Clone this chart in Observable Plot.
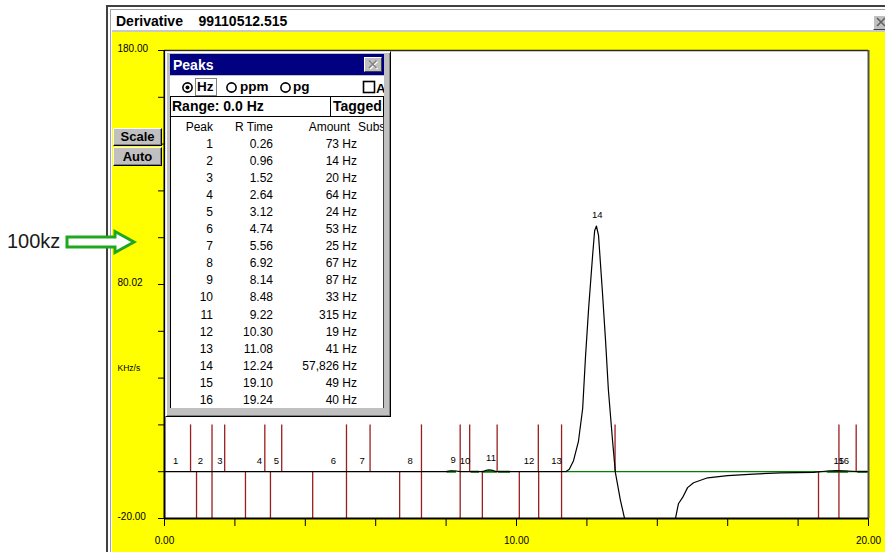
<!DOCTYPE html>
<html><head><meta charset="utf-8">
<script src="https://cdn.jsdelivr.net/npm/d3@7"></script>
<script src="https://cdn.jsdelivr.net/npm/@observablehq/plot@0.6"></script>
<style>
html,body{margin:0;padding:0;width:885px;height:552px;overflow:hidden;background:#fff;font-family:"Liberation Sans",Arial,sans-serif;color:#000;}
.a{position:absolute;box-sizing:border-box;}
.b{font-weight:bold;}
.btn{background:#c0c0c0;border:1px solid;border-color:#fff #000 #000 #fff;box-shadow:inset -1px -1px #808080;font-weight:bold;font-size:13px;text-align:center;}
.t{position:absolute;font-size:12px;white-space:pre;line-height:14px;}
</style></head><body>

<!-- main window frame -->
<div class="a" style="left:106px;top:5px;width:800px;height:560px;border-left:2px solid #404040;border-top:2px solid #404040;background:#fff;"></div>
<div class="a" style="left:110px;top:9px;width:790px;height:560px;border-left:1px solid #a0a0a0;border-top:1px solid #a0a0a0;background:#fff;"></div>
<div class="a b" style="left:116px;top:12px;font-size:14px;line-height:18px;white-space:pre;">Derivative    99110512.515</div>
<div class="a" style="left:112px;top:30px;width:790px;height:2px;background:#c8c8c8;"></div>
<div class="a" style="left:873px;top:15px;width:20px;height:15px;background:#c0c0c0;border:1px solid;border-color:#fff #404040 #404040 #fff;"></div>
<svg class="a" style="left:873px;top:15px;" width="14" height="15"><path d="M4 3 L12 11 M12 3 L4 11" stroke="#606060" stroke-width="1.6"/></svg>

<div id="chart" class="a" style="left:112px;top:32px;"></div>

<!-- buttons -->
<div class="a btn" style="left:113px;top:128px;width:49px;height:18px;line-height:16px;">Scale</div>
<div class="a btn" style="left:113px;top:147px;width:49px;height:19px;line-height:17px;">Auto</div>

<!-- Peaks dialog -->
<div class="a" style="left:165px;top:51px;width:226px;height:366px;background:#c0c0c0;border:1px solid;border-color:#dfdfdf #000 #000 #dfdfdf;box-shadow:inset 1px 1px #fff,inset -1px -1px #808080;"></div>
<div class="a" style="left:170px;top:54px;width:214px;height:21px;background:#000080;"></div>
<div class="a b" style="left:173px;top:56px;font-size:14px;line-height:18px;color:#fff;">Peaks</div>
<div class="a" style="left:364px;top:57px;width:18px;height:15px;background:#c0c0c0;border:1px solid;border-color:#fff #404040 #404040 #fff;"></div>
<svg class="a" style="left:364px;top:57px;" width="18" height="15"><path d="M5 3.5 L12.5 11 M12.5 3.5 L5 11" stroke="#fff" stroke-width="1.5" transform="translate(1,1)"/><path d="M5 3.5 L12.5 11 M12.5 3.5 L5 11" stroke="#808080" stroke-width="1.5"/></svg>
<div class="a" style="left:170px;top:76px;width:214px;height:332px;background:#fff;"></div>
<svg class="a" style="left:170px;top:76px;" width="214" height="20">
  <circle cx="17.5" cy="11.5" r="4.6" fill="#fff" stroke="#000" stroke-width="1.6"/>
  <circle cx="17.5" cy="11.5" r="2" fill="#000"/>
  <circle cx="61.5" cy="11.5" r="4.6" fill="#fff" stroke="#000" stroke-width="1.6"/>
  <circle cx="115.5" cy="11.5" r="4.6" fill="#fff" stroke="#000" stroke-width="1.6"/>
  <rect x="193.5" y="5.5" width="11" height="11" fill="#fff" stroke="#000" stroke-width="1.6"/>
  <rect x="25.5" y="2.5" width="21" height="17" fill="none" stroke="#000" stroke-width="1" stroke-dasharray="1,1"/>
</svg>
<div class="a b" style="left:197px;top:79px;font-size:13.5px;line-height:16px;">Hz</div>
<div class="a b" style="left:240px;top:79px;font-size:13.5px;line-height:16px;">ppm</div>
<div class="a b" style="left:293px;top:79px;font-size:13.5px;line-height:16px;">pg</div>
<div class="a" style="left:376px;top:79px;width:8px;height:16px;overflow:hidden;"><span class="b" style="font-size:13.5px;line-height:16px;">A</span></div>
<div class="a" style="left:170px;top:96px;width:161px;height:21px;border:1px solid #000;border-right:none;background:#fff;"></div>
<div class="a" style="left:330px;top:96px;width:54px;height:21px;border:1px solid #000;background:#fff;overflow:hidden;"><span class="b" style="position:absolute;left:2px;top:1px;font-size:14px;line-height:17px;white-space:pre;">Tagged:</span></div>
<div class="a b" style="left:172px;top:98px;font-size:14px;line-height:17px;white-space:pre;">Range: 0.0 Hz</div>
<div id="tbl" class="a" style="left:170px;top:116px;width:214px;height:292px;border:1px solid #000;border-right-color:#404040;border-bottom:none;background:#fff;overflow:hidden;"></div>

<!-- annotation arrow -->
<div class="a" style="left:7px;top:229px;font-size:20px;line-height:24px;color:#1a1a1a;">100kz</div>
<svg class="a" style="left:0;top:0;pointer-events:none;" width="885" height="552">
  <polygon points="67,237 115,237 115,231.5 134,242 115,252.5 115,247 67,247" fill="#fff" stroke="#1fa81f" stroke-width="3" stroke-linejoin="miter"/>
</svg>

<script>
// ---- peak table ----
const peakNo  = [1, 2, 3, 4, 5, 6, 7, 8, 9, 10, 11, 12, 13, 14, 15, 16];
const rTime   = [0.26, 0.96, 1.52, 2.64, 3.12, 4.74, 5.56, 6.92, 8.14, 8.48, 9.22, 10.30, 11.08, 12.24, 19.10, 19.24];
const amount  = [73, 14, 20, 64, 24, 53, 25, 67, 87, 33, 315, 19, 41, 57826, 49, 40];
const labelY  = [0, 0, 0, 0, 0, 0, 0, 0, 0.3, 0, 1.2, 0, 0, 105, 0, 0];
const headers = ["Peak", "R Time", "Amount", "Subs"];

// ---- signal trace (derivative, KHz/s) ----
const signalX = [0, 8.02, 8.14, 8.28, 8.40, 9.05, 9.14, 9.22, 9.32, 9.42, 11.40, 11.50, 11.62, 11.76, 11.88, 11.96, 12.05, 12.16, 12.22, 12.27, 12.33, 12.44, 12.53, 12.61, 12.73, 12.81, 12.95, 13.07, 13.2, 13.4, 14.2, 14.4, 14.52, 14.6, 14.72, 14.86, 15.03, 15.43, 16.0, 16.73, 17.5, 18.44, 18.84, 19.1, 19.4, 19.7, 20];
const signalY = [0, 0, 0.4, 0.3, 0, 0, 0.6, 0.8, 0.6, 0, 0, 1.0, 4.7, 13, 27, 49, 70, 92, 103, 105, 101, 77, 56, 35, 13, -0.4, -12, -20, -32, -45, -45, -32, -19.7, -13.7, -11, -6.8, -4.7, -2.6, -1.7, -1, -0.5, -0.3, 0.3, 0.5, 0.3, 0, 0];

// ---- baselines (green) ----
const baseMainStart = [11.42];
const baseMainEnd   = [20];
const baseSegStart  = [8.03, 8.71, 9.03, 9.49, 18.84, 19.70];
const baseSegEnd    = [8.30, 8.95, 9.45, 9.83, 19.43, 19.98];

// ---- peak start / end markers ----
const markerTop    = [0.74, 1.35, 1.71, 2.85, 3.33, 5.17, 5.84, 7.30, 8.40, 8.67, 9.45, 10.62, 11.28, 12.80, 19.16, 19.65];
const markerBottom = [0.91, 1.35, 2.30, 3.01, 4.21, 5.17, 6.68, 7.30, 8.40, 9.03, 10.08, 10.63, 11.28, 18.58, 19.16];

// ---- axes ----
const yTicks = [-20, 0, 20, 40, 60, 80, 100, 120, 140, 160, 180];
const yLabelValue = [180, 80, -20];
const yLabelText  = ["180.00", "80.02", "-20.00"];
const yUnitValue = [44];
const yUnitText  = ["KHz/s"];
const xTicks = [0, 2, 4, 6, 8, 10, 12, 14, 16, 18, 20];
const xLabelValue = [0, 10, 20];
const xLabelText  = ["0.00", "10.00", "20.00"];

// table
const tbl = document.getElementById("tbl");
const ox = 171, oy = 117; // table origin (page coords incl. border)
function put(txt, right, cy, align) {
  const s = document.createElement("div");
  s.className = "t";
  s.textContent = txt;
  s.style.top = (cy - 7 - oy) + "px";
  if (align === "right") { s.style.left = (right - 80 - ox) + "px"; s.style.width = "80px"; s.style.textAlign = "right"; }
  else { s.style.left = (right - ox) + "px"; }
  tbl.appendChild(s);
}
put(headers[0], 213, 127, "right");
put(headers[1], 273, 127, "right");
put(headers[2], 350, 127, "right");
put(headers[3], 358, 127, "left");
const fmt = d3.format(",");
peakNo.forEach((n, i) => {
  const cy = 144 + i * 17.05;
  put(String(n), 213, cy, "right");
  put(rTime[i].toFixed(2), 273, cy, "right");
  put(fmt(amount[i]) + " Hz", 357, cy, "right");
});

// chart
const signal = signalX.map((x, i) => ({x, y: signalY[i]}));
const peaks = peakNo.map((n, i) => ({n, rt: rTime[i], ly: labelY[i]}));
const baseMain = baseMainStart.map((a, i) => ({a, b: baseMainEnd[i]}));
const baseSeg = baseSegStart.map((a, i) => ({a, b: baseSegEnd[i]}));
const xLab = new Map(xLabelValue.map((v, i) => [v, xLabelText[i]]));
const red = "#9a1e1e";

const chart = Plot.plot({
  width: 773, height: 520,
  marginLeft: 52, marginRight: 17, marginTop: 18, marginBottom: 34,
  x: {domain: [0, 20]},
  y: {domain: [-20, 180]},
  style: {background: "#ffff00", fontFamily: "'Liberation Sans', Arial, sans-serif", fontSize: "10px", color: "#000", overflow: "visible"},
  marks: [
    Plot.frame({fill: "#fff", stroke: null}),
    Plot.ruleY(baseMain, {y: 0, x1: "a", x2: "b", stroke: "#008000", strokeWidth: 1.2}),
    Plot.ruleY(baseSeg, {y: 0, x1: "a", x2: "b", stroke: "#006f00", strokeWidth: 2}),
    Plot.ruleX(markerTop, {x: d => d, y1: 0, y2: 20, stroke: red, strokeWidth: 1.3}),
    Plot.ruleX(markerBottom, {x: d => d, y1: -20, y2: 0, stroke: red, strokeWidth: 1.3}),
    Plot.line(signal, {x: "x", y: "y", stroke: "#000", strokeWidth: 1.2, clip: true}),
    Plot.text(peaks, {x: "rt", y: "ly", text: d => String(d.n), dy: -11, dx: 2, fontSize: 9.5, fill: "#000"}),
    Plot.ruleY([180], {stroke: "#2a2a1a", strokeWidth: 1.5}),
    Plot.ruleX([20], {stroke: "#505050", strokeWidth: 2}),
    Plot.ruleX([0], {stroke: "#000", strokeWidth: 2}),
    Plot.ruleY([-20], {stroke: "#000", strokeWidth: 2}),
    Plot.axisY({ticks: yTicks, tickSize: 6, tickFormat: () => "", label: null}),
    Plot.text(yLabelValue, {y: d => d, text: (d, i) => yLabelText[i], frameAnchor: "left", dx: -47, dy: -2, textAnchor: "start", fontSize: 10}),
    Plot.text(yUnitValue, {y: d => d, text: (d, i) => yUnitText[i], frameAnchor: "left", dx: -47, textAnchor: "start", fontSize: 8.5}),
    Plot.axisX({ticks: xTicks, tickSize: 8, tickPadding: 10, tickFormat: v => xLab.get(v) ?? "", label: null, fontSize: 10})
  ]
});
document.getElementById("chart").appendChild(chart);
</script>
</body></html>
